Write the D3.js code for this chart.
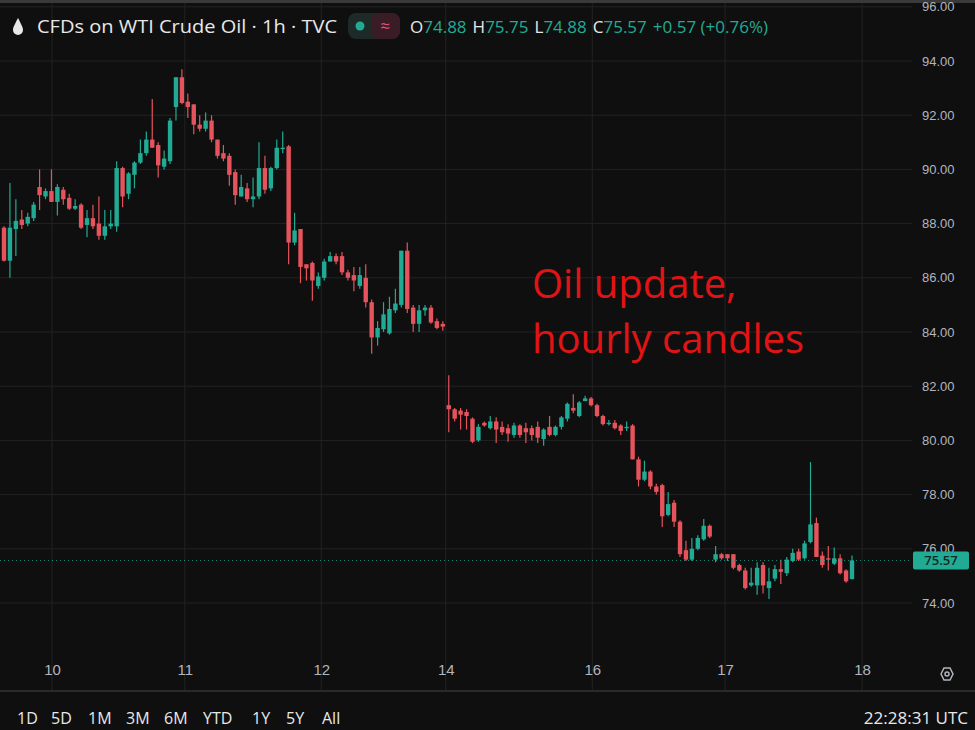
<!DOCTYPE html>
<html>
<head>
<meta charset="utf-8">
<script src="https://cdn.jsdelivr.net/npm/d3@7"></script>
<style>
  body { margin: 0; background: #0f0f0f; }
  svg { display: block; font-family: "Open Sans", "DejaVu Sans", sans-serif; }
</style>
</head>
<body>
<svg id="chart" width="975" height="730"></svg>
<script>
// hourly candles, [open, high, low, close]
var candles = [
  [87.85,87.9,86.6,86.63],[86.63,89.5,86.0,87.85],[87.8,88.9,86.8,88.1],[88.15,88.5,87.8,87.95],
  [88.0,88.4,87.9,88.25],[88.2,88.8,88.1,88.7],[89.35,90.0,88.5,89.05],[89.0,89.3,88.9,89.2],
  [89.2,90.0,88.8,88.8],[88.8,89.45,88.3,89.35],[89.25,89.35,88.7,88.9],[88.95,89.1,88.5,88.55],
  [88.55,88.9,88.5,88.65],[88.7,88.75,87.8,87.85],[87.95,88.5,87.5,88.2],[88.2,88.7,87.8,87.9],
  [88.0,89.0,87.4,87.55],[87.55,88.5,87.4,87.9],[87.9,88.5,87.8,88.0],[87.9,90.3,87.7,90.05],
  [90.05,90.1,88.6,89.0],[89.1,89.9,88.9,89.85],[89.8,90.3,89.3,90.25],[90.25,91.1,90.2,90.6],
  [90.6,91.4,90.5,91.1],[91.1,92.6,90.8,90.8],[90.9,91.0,89.7,90.15],[90.1,90.7,90.0,90.4],
  [90.3,91.9,90.2,91.8],[92.3,93.4,91.8,93.4],[93.4,93.7,92.4,92.45],[92.5,92.8,91.9,92.3],
  [92.4,92.4,91.3,91.65],[91.65,92.0,91.4,91.5],[91.5,92.1,91.4,91.8],[91.8,92.0,91.0,91.1],
  [91.1,91.1,90.4,90.5],[90.6,90.9,90.3,90.4],[90.5,90.6,89.4,89.8],[89.9,90.0,88.7,89.05],
  [89.0,89.8,89.0,89.35],[89.3,89.5,88.8,88.9],[88.9,89.7,88.6,89.0],[89.0,91.0,88.9,90.05],
  [90.05,90.5,89.1,89.25],[89.3,90.1,89.2,90.05],[90.05,91.1,90.0,90.8],[90.75,91.4,90.6,90.8],
  [90.85,90.9,86.5,87.3],[87.3,88.4,87.2,87.75],[87.8,87.8,85.8,86.4],[86.5,86.5,85.9,86.35],
  [86.55,86.6,85.15,85.9],[85.7,86.2,85.6,86.05],[86.0,86.7,85.9,86.6],[86.6,86.95,86.6,86.8],
  [86.8,86.9,86.5,86.6],[86.8,86.95,86.1,86.2],[86.2,86.3,85.9,86.0],[86.1,86.4,85.5,85.9],
  [85.7,86.4,85.6,86.1],[86.0,86.5,84.9,85.1],[85.1,85.2,83.2,83.8],[83.8,84.4,83.5,84.15],
  [84.1,85.1,84.0,84.65],[83.95,85.3,83.9,84.85],[84.8,85.6,84.7,85.05],[85.0,87.0,84.9,87.0],
  [87.0,87.3,84.7,84.85],[84.9,85.0,84.0,84.3],[84.3,85.0,84.0,84.8],[84.8,85.0,84.6,84.9],
  [84.9,85.0,84.3,84.35],[84.4,84.5,84.1,84.15],[84.3,84.4,84.05,84.2],
  [81.3,82.4,80.3,81.15],[81.15,81.2,80.7,80.8],[81.1,81.2,80.4,80.95],[81.05,81.15,80.4,80.9],
  [80.8,80.85,79.9,79.95],[80.0,80.6,79.95,80.5],[80.65,80.7,80.5,80.55],[80.45,80.9,80.4,80.7],
  [80.7,80.85,79.9,80.4],[80.5,80.7,80.2,80.3],[80.45,80.6,79.95,80.25],[80.2,80.65,80.1,80.55],
  [80.55,80.6,80.1,80.2],[80.45,80.65,79.9,80.3],[80.45,80.55,80.0,80.2],[80.5,80.7,79.9,80.1],
  [80.05,80.45,79.8,80.4],[80.5,80.9,80.15,80.2],[80.2,80.55,80.15,80.5],[80.5,80.9,80.4,80.85],
  [80.8,81.4,80.7,81.35],[81.2,81.7,81.0,81.1],[80.9,81.45,80.85,81.4],[81.45,81.65,81.45,81.55],
  [81.55,81.6,81.25,81.3],[81.3,81.35,80.85,80.9],[80.9,80.95,80.55,80.6],[80.6,80.75,80.55,80.65],
  [80.65,80.75,80.4,80.45],[80.55,80.6,80.2,80.35],[80.45,80.7,80.35,80.5],[80.55,80.6,79.3,79.3],
  [79.3,79.4,78.3,78.55],[78.55,79.25,78.5,78.85],[78.85,78.9,78.2,78.3],[78.3,78.4,78.0,78.1],
  [78.35,78.4,76.8,77.2],[77.25,78.1,77.2,77.65],[77.7,77.8,76.8,77.0],[77.0,77.05,75.7,75.8],
  [75.95,76.3,75.55,75.6],[75.6,76.4,75.55,76.0],[76.0,76.5,75.95,76.4],[76.35,77.1,76.3,76.85],
  [76.85,76.9,76.4,76.45],[75.6,76.1,75.5,75.8],[75.8,75.85,75.6,75.65],[75.8,75.8,75.55,75.65],
  [75.8,75.8,75.25,75.3],[75.4,75.45,75.15,75.2],[75.2,75.3,74.5,74.55],[74.65,75.3,74.6,74.75],
  [74.65,75.5,74.3,75.3],[75.4,75.5,74.35,74.65],[74.55,75.3,74.15,74.8],[74.9,75.4,74.8,75.25],
  [75.25,75.6,74.7,75.15],[75.1,75.7,75.0,75.6],[75.55,76.0,75.5,75.85],[75.9,76.0,75.55,75.6],
  [75.65,76.3,75.6,76.2],[76.25,79.2,76.2,76.9],[76.95,77.15,75.7,75.7],[75.75,75.9,75.3,75.4],
  [75.65,76.1,75.2,75.6],[75.45,76.05,75.4,75.65],[75.65,75.8,75.05,75.1],[75.2,75.25,74.75,74.8],
  [74.88,75.75,74.88,75.57]
];
var priceTicks = [74, 76, 78, 80, 82, 84, 86, 88, 90, 92, 94, 96];
var dayLabels = ["10", "11", "12", "14", "16", "17", "18"];
var dayIndex = [8.1, 30.5, 53.5, 74.5, 99.2, 121.6, 144.7];
var lastPrice = 75.57;
var ranges = ["1D", "5D", "1M", "3M", "6M", "YTD", "1Y", "5Y", "All"];

var up = "#22ab94", down = "#e5535c", grid = "#232323", txt = "#b2b5be";
var svg = d3.select("#chart");
var x = d3.scaleLinear().domain([0, candles.length - 1]).range([4, 852]);
var y = d3.scaleLinear().domain([74, 94]).range([603, 61]);

svg.append("rect").attr("width", 975).attr("height", 730).attr("fill", "#0f0f0f");
svg.append("rect").attr("width", 975).attr("height", 3).attr("fill", "#3a3a3a");

// grid
svg.append("g").selectAll("line").data(priceTicks).join("line")
  .attr("x1", 0).attr("x2", 912).attr("y1", d => y(d)).attr("y2", d => y(d))
  .attr("stroke", grid);
svg.append("g").selectAll("line").data(dayIndex).join("line")
  .attr("x1", d => x(d)).attr("x2", d => x(d)).attr("y1", 3).attr("y2", 690)
  .attr("stroke", grid);

// price axis
var yAxis = svg.append("g").attr("transform", "translate(912,0)")
  .call(d3.axisRight(y).tickValues(priceTicks).tickFormat(d3.format(".2f")).tickSize(0).tickPadding(10));
yAxis.select(".domain").remove();
yAxis.selectAll("text").attr("fill", txt).style("font-size", "13px");

// time axis
var xAxis = svg.append("g").attr("transform", "translate(0,664)")
  .call(d3.axisBottom(x).tickValues(dayIndex).tickFormat((d, i) => dayLabels[i]).tickSize(0).tickPadding(0));
xAxis.select(".domain").remove();
xAxis.selectAll("text").attr("fill", txt).style("font-size", "15px");
svg.append("line").attr("x1", 0).attr("x2", 975).attr("y1", 691).attr("y2", 691)
  .attr("stroke", "#2a2a2a").attr("stroke-width", 2);

// candles
var g = svg.append("g");
g.selectAll("line.wick").data(candles).join("line").attr("class", "wick")
  .attr("x1", (d, i) => x(i)).attr("x2", (d, i) => x(i))
  .attr("y1", d => y(d[1])).attr("y2", d => y(d[2]))
  .attr("stroke", d => d[3] >= d[0] ? up : down).attr("stroke-width", 1.2);
g.selectAll("rect").data(candles).join("rect")
  .attr("x", (d, i) => x(i) - 2.2).attr("width", 4.4)
  .attr("y", d => y(Math.max(d[0], d[3])))
  .attr("height", d => Math.max(1.2, Math.abs(y(d[0]) - y(d[3]))))
  .attr("fill", d => d[3] >= d[0] ? up : down);

// last price
svg.append("line").attr("x1", 0).attr("x2", 912).attr("y1", y(lastPrice)).attr("y2", y(lastPrice))
  .attr("stroke", up).attr("stroke-dasharray", "1,3").attr("opacity", 0.8);
svg.append("rect").attr("x", 913).attr("y", y(lastPrice) - 9).attr("width", 56).attr("height", 18)
  .attr("rx", 2).attr("fill", up);
svg.append("text").attr("x", 941).attr("y", y(lastPrice) + 5).attr("text-anchor", "middle")
  .attr("fill", "#0f2a25").style("font-size", "13px").style("font-weight", "600").text(lastPrice.toFixed(2));

// header
svg.append("path").attr("d", "M18,18 C15,24 13,27 13,30 A5,5 0 0 0 23,30 C23,27 21,24 18,18Z").attr("fill", "#e8e8e8");
svg.append("text").attr("x", 37).attr("y", 33).attr("fill", "#e8e8e8").style("font-size", "19px")
  .attr("textLength", 300).attr("lengthAdjust", "spacingAndGlyphs")
  .text("CFDs on WTI Crude Oil · 1h · TVC");
svg.append("rect").attr("x", 348).attr("y", 13).attr("width", 52).attr("height", 26).attr("rx", 8).attr("fill", "#1d2a28");
svg.append("rect").attr("x", 371).attr("y", 13).attr("width", 29).attr("height", 26).attr("rx", 8).attr("fill", "#3a1c26");
svg.append("circle").attr("cx", 360).attr("cy", 26).attr("r", 4.5).attr("fill", up);
svg.append("text").attr("x", 385).attr("y", 32).attr("text-anchor", "middle").attr("fill", "#e0507a")
  .style("font-size", "17px").text("≈");
var ohlc = [["O", "74.88"], ["H", "75.75"], ["L", "74.88"], ["C", "75.57"]];
var t = svg.append("text").attr("x", 410).attr("y", 33).style("font-size", "17px");
ohlc.forEach(function (p, i) {
  t.append("tspan").attr("fill", "#e8e8e8").attr("dx", i ? 6 : 0).text(p[0]);
  t.append("tspan").attr("fill", up).text(p[1]);
});
t.append("tspan").attr("fill", up).attr("dx", 6).text("+0.57 (+0.76%)");

// annotation
svg.append("text").attr("x", 532).attr("y", 298).attr("fill", "#e01414").style("font-size", "40px").text("Oil update,");
svg.append("text").attr("x", 532).attr("y", 353).attr("fill", "#e01414").style("font-size", "40px").text("hourly candles");

// gear
svg.append("polygon").attr("points", "941,674 944,668 950,668 953,674 950,680 944,680")
  .attr("fill", "none").attr("stroke", txt).attr("stroke-width", 1.5);
svg.append("circle").attr("cx", 947).attr("cy", 674).attr("r", 2).attr("fill", "none").attr("stroke", txt).attr("stroke-width", 1.5);

// bottom bar
var bx = [17, 51, 88, 126, 164, 203, 252, 286, 322];
svg.append("g").selectAll("text").data(ranges).join("text")
  .attr("x", (d, i) => bx[i]).attr("y", 724).attr("fill", "#e8e8e8").style("font-size", "16px").text(d => d);
svg.append("text").attr("x", 968).attr("y", 724).attr("text-anchor", "end").attr("fill", "#e8e8e8")
  .style("font-size", "17px").text("22:28:31 UTC");
</script>
</body>
</html>
